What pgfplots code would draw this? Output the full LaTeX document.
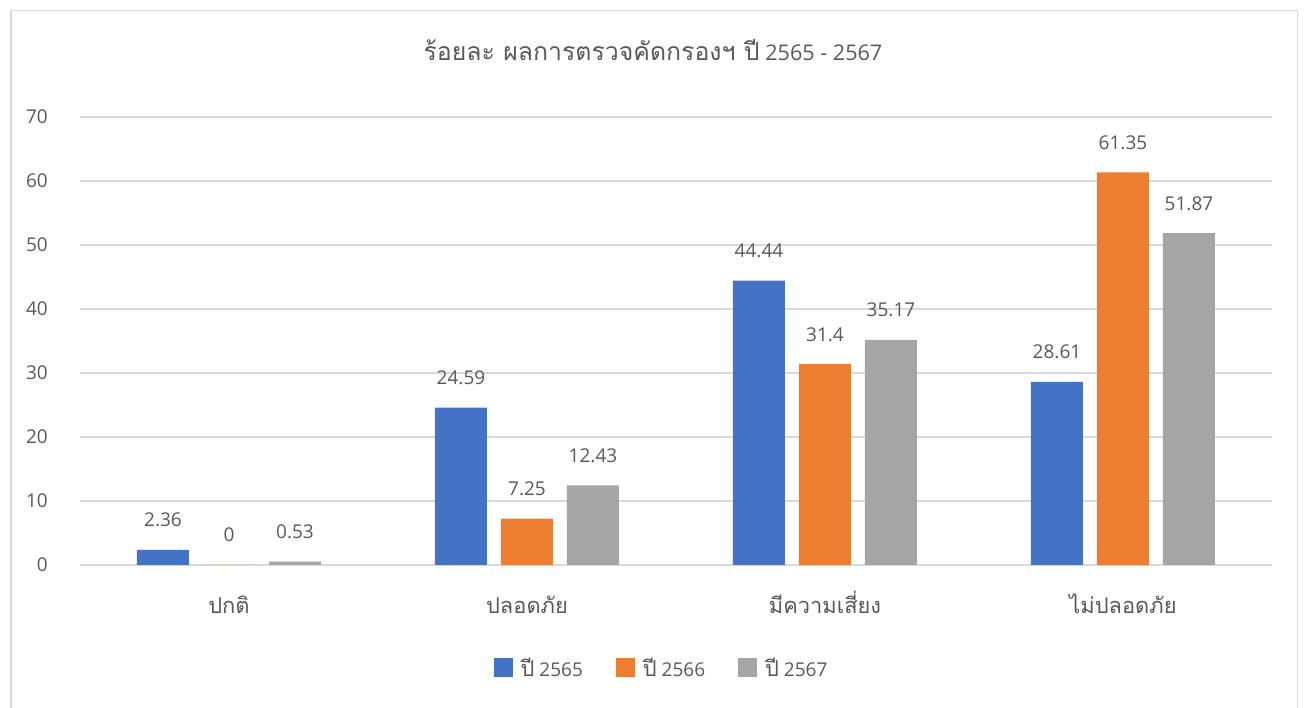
\documentclass[border=0pt]{standalone}
\usepackage{fontspec}
\setmainfont{Open Sans}
\newfontfamily\thaifont[Script=Thai,Scale=1.15]{Loma}
\usepackage{pgfplots}
\pgfplotsset{compat=1.18}
\definecolor{cA}{HTML}{4472C4}
\definecolor{cB}{HTML}{ED7D31}
\definecolor{cC}{HTML}{A5A5A5}
\definecolor{gridc}{HTML}{D9D9D9}
\definecolor{txtc}{HTML}{595959}
\begin{document}
\begin{tikzpicture}[x=1pt,y=1pt]
\useasboundingbox (0,0) rectangle (1306,708);
\clip (0,0) rectangle (1306,708);
\draw[gridc, line width=1.5pt] (10.75,-20) rectangle (1297.25,697.25);
\begin{axis}[
  at={(80pt,143pt)}, anchor=south west,
  scale only axis, width=1192pt, height=448pt,
  ymin=0, ymax=70, xmin=-0.5, xmax=3.5,
  ytick={0,10,...,70}, xtick={0,1,2,3},
  xticklabels={{\thaifont ปกติ},{\thaifont ปลอดภัย},{\thaifont มีความเสี่ยง},{\thaifont ไม่ปลอดภัย}},
  ybar=14pt, bar width=52pt,
  axis line style={draw=none},
  major tick length=0pt,
  ymajorgrids, grid style={gridc, line width=1.4pt},
  /pgf/number format/assume math mode=true,
  tick label style={font=\fontsize{19}{23}\selectfont, text=txtc},
  yticklabel style={anchor=east, inner sep=0pt, xshift=-32pt},
  xticklabel style={anchor=base, inner sep=0pt, yshift=-49pt},
  title={{\thaifont ร้อยละ ผลการตรวจคัดกรองฯ ปี} 2565 - 2567},
  title style={at={(axis description cs:0.4807,1.1138)}, anchor=base, inner sep=0pt, font=\fontsize{21.6}{26}\selectfont, text=txtc},
  nodes near coords,
  every node near coord/.append style={font=\fontsize{19}{23}\selectfont, text=txtc, anchor=base, inner sep=0pt, yshift=23pt},
  legend columns=3,
  legend style={at={(axis description cs:0.487,-0.2299)}, anchor=center, draw=none, fill=none,
    font=\fontsize{19}{23}\selectfont, text=txtc,
    nodes={inner sep=0pt, anchor=west},
    /tikz/every even column/.append style={column sep=33pt}},
  legend image code/.code={\fill[#1, draw=none] (0pt,-9.5pt) rectangle (19pt,9.5pt); \path (27pt,0pt);},
]
\addplot[fill=cA, draw=none] coordinates {(0,2.36) (1,24.59) (2,44.44) (3,28.61)};
\addplot[fill=cB, draw=none] coordinates {(0,0) (1,7.25) (2,31.4) (3,61.35)};
\addplot[fill=cC, draw=none] coordinates {(0,0.53) (1,12.43) (2,35.17) (3,51.87)};
\legend{{\thaifont ปี} 2565,{\thaifont ปี} 2566,{\thaifont ปี} 2567}
\end{axis}
\end{tikzpicture}
\end{document}
